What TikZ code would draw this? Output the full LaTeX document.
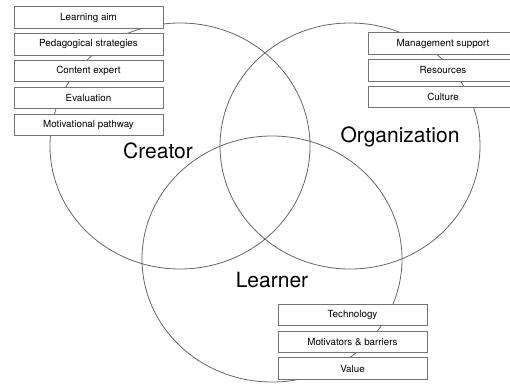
\documentclass[tikz,border=0pt]{standalone}
\usepackage{fontspec}
\setmainfont{TeX Gyre Heros}
\usetikzlibrary{positioning,shapes.geometric}
\begin{document}
\begin{tikzpicture}[
    x=1pt, y=-1pt,
    ring/.style={%
      draw=black!60,
      line width=0.8pt,
      ellipse,
      inner sep=0pt,
      minimum width=260pt,
      minimum height=246pt,
    },
    title/.style={%
      font=\fontsize{21}{24}\selectfont,
    },
    item/.style={%
      draw=black!55,
      line width=0.8pt,
      fill=white,
      rectangle,
      inner sep=0pt,
      minimum width=149pt,
      minimum height=21.5pt,
      font=\fontsize{9.8}{11}\selectfont,
    },
    node distance=4.5pt,
  ]
    \useasboundingbox (0,0) rectangle (510,383);
    % the three sets
    \node [ring] (creator) at (180,146) {};
    \node [ring] (organization) at (350,146) {};
    \node [ring] (learner) at (272,259) {};
    \node [title] (creatorTitle) at (158,151) {Creator};
    \node [title] (organizationTitle) at (400,137) {Organization};
    \node [title] (learnerTitle) at (272,280) {Learner};
    % creator factors
    \node [item] (aim) at (88.5,17.5) {Learning aim};
    \node [item, below=of aim] (strategies) {Pedagogical strategies};
    \node [item, below=of strategies] (expert) {Content expert};
    \node [item, below=of expert] (evaluation) {Evaluation};
    \node [item, below=of evaluation] (pathway) {Motivational pathway};
    % organization factors
    \node [item] (support) at (443,43.5) {Management support};
    \node [item, below=of support] (resources) {Resources};
    \node [item, below=of resources] (culture) {Culture};
    % learner factors
    \node [item] (technology) at (352.5,315) {Technology};
    \node [item, below=of technology] (motivators) {Motivators \& barriers};
    \node [item, below=of motivators] (value) {Value};
\end{tikzpicture}
\end{document}
